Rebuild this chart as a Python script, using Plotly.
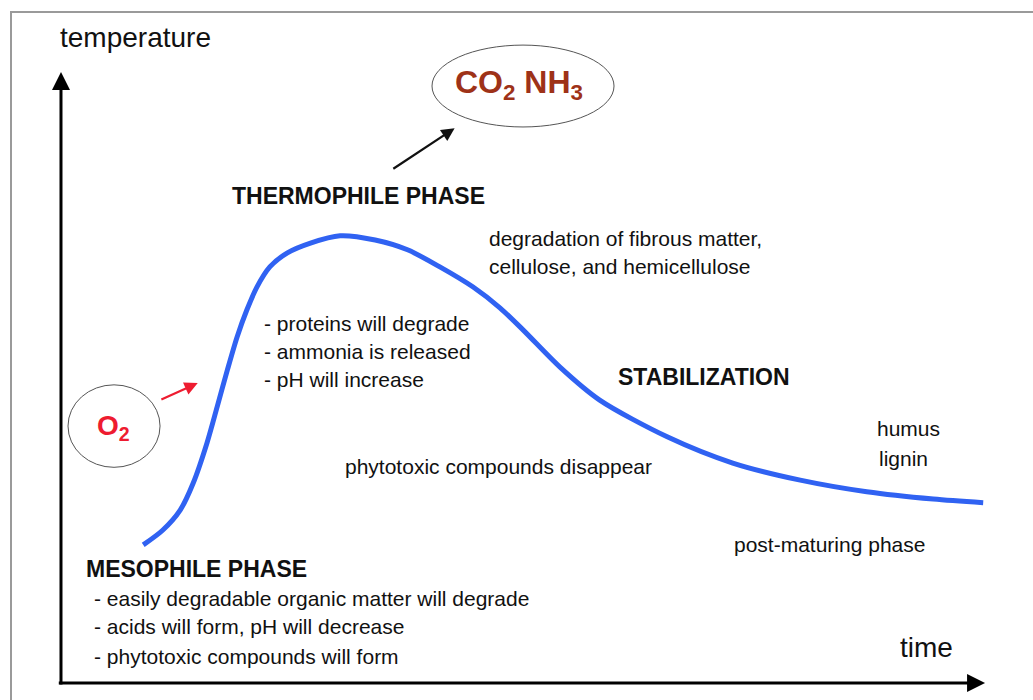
import plotly.graph_objects as go

# Curve: time (0-100) vs temperature (0-100)
time = [8.9, 11.0, 12.9, 14.3, 15.8, 16.9, 18.0, 19.05, 20.1, 21.2, 22.6, 24.5,
        27.0, 30.2, 34.0, 37.5, 41.0, 44.6, 47.5, 50.0, 54.0, 58.3, 65.6, 72.7,
        80.0, 87.2, 94.4, 99.8]
temperature = [22.6, 25.0, 28.3, 32.7, 39.3, 45.2, 51.2, 56.6, 61.0, 64.8, 68.1, 70.4,
               72.0, 73.2, 72.5, 70.9, 68.1, 64.8, 61.4, 57.8, 51.7, 46.3, 40.3, 36.0,
               33.2, 31.3, 30.1, 29.5]

x_label = "time"
y_label = "temperature"

FONT = "Arial, Liberation Sans, sans-serif"

fig = go.Figure()
fig.add_trace(go.Scatter(x=time, y=temperature, mode="lines",
                         line=dict(color="#3062F2", width=5, shape="spline", smoothing=0.8),
                         hoverinfo="skip", showlegend=False))

ann = []

def txt(x, y, s, size=21, bold=False, color="#111111", xanchor="left"):
    ann.append(dict(x=x, y=y, xref="x", yref="y", text=("<b>%s</b>" % s) if bold else s,
                    showarrow=False, xanchor=xanchor, yanchor="middle",
                    font=dict(family=FONT, size=size, color=color)))

txt(-0.3, 105.6, y_label, size=28)
txt(90.6, 5.8, x_label, size=28)
txt(49.6, 98.0, "CO<sub>2</sub> NH<sub>3</sub>", size=32, bold=True, color="#9E3218", xanchor="center")
txt(5.7, 41.8, "O<sub>2</sub>", size=28, bold=True, color="#EE1C30", xanchor="center")
txt(18.3, 79.7, "THERMOPHILE PHASE", size=23, bold=True)
txt(46.1, 72.8, "degradation of fibrous matter,")
txt(46.1, 68.2, "cellulose, and hemicellulose")
txt(21.8, 58.8, "- proteins will degrade")
txt(21.8, 54.2, "- ammonia is released")
txt(21.8, 49.6, "- pH will increase")
txt(60.1, 50.1, "STABILIZATION", size=23, bold=True)
txt(88.1, 41.7, "humus")
txt(88.3, 36.7, "lignin")
txt(30.5, 35.4, "phytotoxic compounds disappear")
txt(72.6, 22.6, "post-maturing phase")
txt(2.5, 18.7, "MESOPHILE PHASE", size=23, bold=True)
txt(3.4, 13.8, "- easily degradable organic matter will degrade")
txt(3.4, 9.2, "- acids will form, pH will decrease")
txt(3.4, 4.4, "- phytotoxic compounds will form")

# axis arrows
ann.append(dict(x=0, y=100, ax=0, ay=-0.5, xref="x", yref="y", axref="x", ayref="y",
                showarrow=True, arrowhead=2, arrowsize=1.2, arrowwidth=3, arrowcolor="#000000", text=""))
ann.append(dict(x=100, y=0, ax=-0.4, ay=0, xref="x", yref="y", axref="x", ayref="y",
                showarrow=True, arrowhead=2, arrowsize=1.2, arrowwidth=3, arrowcolor="#000000", text=""))
# pointer arrows
ann.append(dict(x=42.6, y=90.8, ax=35.8, ay=84.0, xref="x", yref="y", axref="x", ayref="y",
                showarrow=True, arrowhead=2, arrowsize=1.2, arrowwidth=2.2, arrowcolor="#111111", text=""))
ann.append(dict(x=14.8, y=49.1, ax=10.7, ay=46.3, xref="x", yref="y", axref="x", ayref="y",
                showarrow=True, arrowhead=2, arrowsize=1.2, arrowwidth=2.2, arrowcolor="#EE1C30", text=""))

shapes = [
    dict(type="rect", xref="paper", yref="paper", x0=11/1033, x1=1.02, y0=-0.02, y1=1-12/700,
         line=dict(color="#9a9a9a", width=2), layer="below"),
    dict(type="circle", xref="x", yref="y", x0=40.15, x1=59.85, y0=91.0, y1=104.4,
         line=dict(color="#555555", width=1)),
    dict(type="circle", xref="x", yref="y", x0=0.76, x1=10.72, y0=35.3, y1=48.8,
         line=dict(color="#555555", width=1)),
]

fig.update_layout(
    width=1033, height=700, margin=dict(l=0, r=0, t=0, b=0),
    paper_bgcolor="white", plot_bgcolor="white",
    xaxis=dict(range=[-6.6, 105.19], visible=False, fixedrange=True),
    yaxis=dict(range=[-2.78, 111.78], visible=False, fixedrange=True),
    annotations=ann, shapes=shapes, showlegend=False,
)

fig.write_html("out.html", config=dict(displayModeBar=False),
               post_script="document.body.style.margin='0';document.body.style.overflow='hidden';")
